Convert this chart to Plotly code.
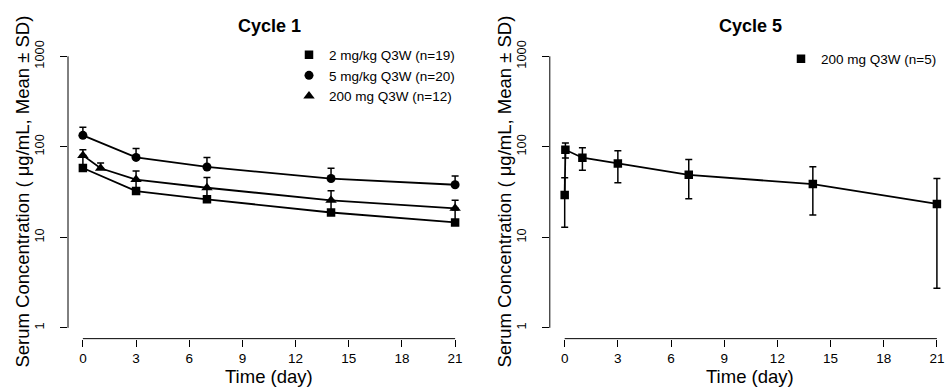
import plotly.graph_objects as go

# ---------------- data ----------------
days_std = [0, 3, 7, 14, 21]
days_200 = [0, 1, 3, 7, 14, 21]

sq_mean = [58.4, 32.4, 26.3, 18.8, 14.6]          # 2 mg/kg Q3W
sq_upper = [78, 42, 34, 25, 20]

ci_mean = [134, 76.4, 59.9, 44.6, 38.1]           # 5 mg/kg Q3W
ci_upper = [164, 95.9, 76.4, 57.9, 47.7]

tr_mean = [80.4, 57.9, 43.5, 35.3, 25.6, 20.9]    # 200 mg Q3W cycle 1
tr_upper = [92.7, 66.2, 54.2, 45.8, 32.7, 25.6]

c5_days = [0, 0.04, 1, 3, 7, 14, 21]              # 200 mg Q3W cycle 5
c5_mean = [29.4, 92.7, 75.8, 65.2, 49.0, 38.7, 23.4]
c5_upper = [45.4, 110, 97.5, 90.4, 72.6, 60.4, 44.7]
c5_lower = [12.9, 75.2, 55.0, 40.0, 26.7, 17.6, 2.74]

x_ticks = [0, 3, 6, 9, 12, 15, 18, 21]
y_ticks = [1, 10, 100, 1000]
y_ticklabels = ["1", "10", "100", "1000"]

names_c1 = ["2 mg/kg Q3W (n=19)", "5 mg/kg Q3W (n=20)", "200 mg Q3W (n=12)"]
names_c5 = ["200 mg Q3W (n=5)"]
titles = ["Cycle 1", "Cycle 5"]
x_title = "Time (day)"
y_title = "Serum Concentration ( μg/mL, Mean ± SD)"

# ---------------- figure ----------------
W, H = 946, 388
FONT = "Liberation Sans, Arial, sans-serif"
fig = go.Figure()


def up_err(mean, upper):
    return dict(type="data", symmetric=False,
                array=[u - m for m, u in zip(mean, upper)],
                arrayminus=[0] * len(mean),
                color="black", thickness=1.5, width=3.5)


def add_series(x, y, err, symbol, size, name, xa, ya, legend):
    fig.add_trace(go.Scatter(x=x, y=y, mode="lines", xaxis=xa, yaxis=ya,
                             line=dict(color="black", width=1.8),
                             showlegend=False, hoverinfo="skip"))
    fig.add_trace(go.Scatter(x=x, y=y, mode="markers", xaxis=xa, yaxis=ya,
                             name=name, legend=legend,
                             marker=dict(symbol=symbol, size=size, color="black"),
                             error_y=err))


add_series(days_std, sq_mean, up_err(sq_mean, sq_upper), "square", 8.5, names_c1[0], "x", "y", "legend")
add_series(days_std, ci_mean, up_err(ci_mean, ci_upper), "circle", 9, names_c1[1], "x", "y", "legend")
add_series(days_200, tr_mean, up_err(tr_mean, tr_upper), "triangle-up", 10, names_c1[2], "x", "y", "legend")

err5 = dict(type="data", symmetric=False,
            array=[u - m for m, u in zip(c5_mean, c5_upper)],
            arrayminus=[m - l for m, l in zip(c5_mean, c5_lower)],
            color="black", thickness=1.5, width=3.5)
add_series(c5_days, c5_mean, err5, "square", 8.5, names_c5[0], "x2", "y2", "legend2")

# axis geometry (pixels)
L1, R1 = 68, 470
L2 = 549.8
TOP, BOT = 41, 338
ppd = (R1 - L1) / 22.68
x2_max = -0.84 + (W - L2) / ppd

ydom = [(H - BOT) / H, (H - TOP) / H]
common_x = dict(showgrid=False, zeroline=False, showline=False, ticks="outside",
                ticklen=7, tickwidth=1, tickcolor="black", tickvals=x_ticks,
                tickfont=dict(family=FONT, size=13.5, color="black"))
common_y = dict(type="log", range=[-0.12, 3.12], showgrid=False, zeroline=False,
                showline=False, ticks="outside", ticklen=7, tickwidth=1,
                tickcolor="black", tickvals=y_ticks, ticktext=y_ticklabels,
                tickangle=-90, ticklabelstandoff=11,
                tickfont=dict(family=FONT, size=12.8, color="black"))

fig.update_layout(
    width=W, height=H,
    margin=dict(l=0, r=0, t=0, b=0),
    paper_bgcolor="white", plot_bgcolor="white",
    font=dict(family=FONT, color="black"),
    xaxis=dict(domain=[L1 / W, R1 / W], range=[-0.84, 21.84], anchor="y", **common_x),
    yaxis=dict(domain=ydom, anchor="x", **common_y),
    xaxis2=dict(domain=[L2 / W, 1.0], range=[-0.84, x2_max], anchor="y2", **common_x),
    yaxis2=dict(domain=ydom, anchor="x2", **common_y),
    legend=dict(x=289 / W, y=1 - 35 / H, xanchor="left", yanchor="top",
                font=dict(family=FONT, size=13.5, color="black"),
                bgcolor="rgba(0,0,0,0)", itemwidth=30, tracegroupgap=0),
    legend2=dict(x=781 / W, y=1 - 39 / H, xanchor="left", yanchor="top",
                 font=dict(family=FONT, size=13.5, color="black"),
                 bgcolor="rgba(0,0,0,0)", itemwidth=30, tracegroupgap=0),
)

# R-style axis lines (spanning only first..last tick)
yl0, yl1 = 0.12 / 3.24, 3.12 / 3.24
for xa, ya in [("x", "y"), ("x2", "y2")]:
    fig.add_shape(type="line", xref=xa, yref=ya + " domain", x0=0, x1=21, y0=0, y1=0,
                  line=dict(color="black", width=1))
    fig.add_shape(type="line", xref=xa + " domain", yref=ya + " domain", x0=0, x1=0,
                  y0=yl0, y1=yl1, line=dict(color="black", width=1))

# titles
centers = [269, 750]
for cx, t in zip(centers, titles):
    fig.add_annotation(text="<b>" + t + "</b>", x=cx / W, y=1 - 21 / H, xref="paper", yref="paper",
                       showarrow=False, xanchor="center", yanchor="middle",
                       font=dict(family=FONT, size=18, color="black"))
    fig.add_annotation(text=x_title, x=cx / W, y=1 - 376 / H, xref="paper", yref="paper",
                       showarrow=False, xanchor="center", yanchor="middle",
                       font=dict(family=FONT, size=18.5, color="black"))
for ax in [23, 505]:
    fig.add_annotation(text=y_title, x=ax / W, y=1 - 189 / H, xref="paper", yref="paper",
                       showarrow=False, xanchor="center", yanchor="middle", textangle=-90,
                       font=dict(family=FONT, size=18.5, color="black"))

fig.write_html("out.html", config={"displayModeBar": False},
               post_script="document.body.style.margin='0';document.body.style.padding='0';"
                           "document.documentElement.style.overflow='hidden';")
